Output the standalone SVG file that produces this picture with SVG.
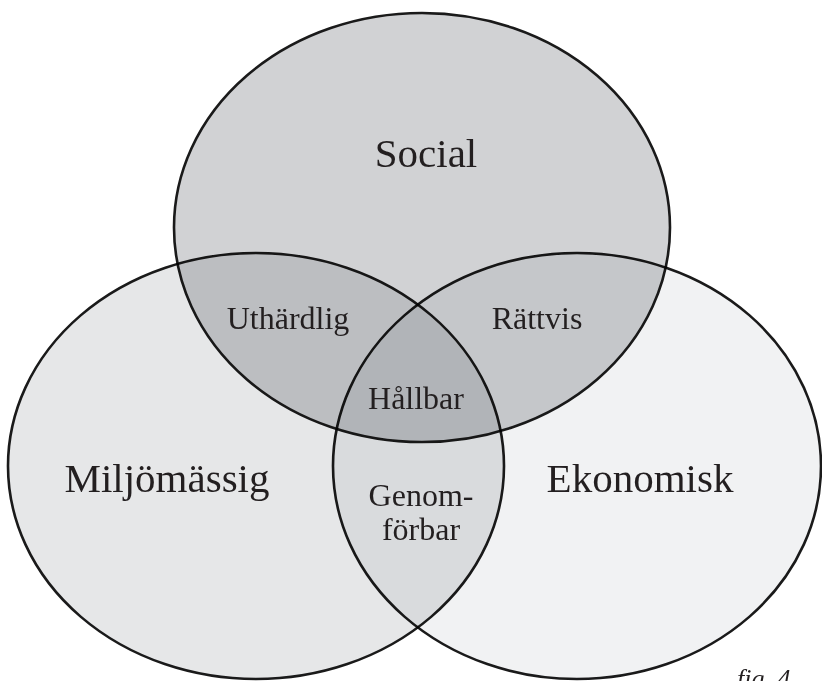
<svg xmlns="http://www.w3.org/2000/svg" width="822" height="681" viewBox="0 0 822 681">
<style>
.c{stroke:#1a1a1a;stroke-width:2.6;mix-blend-mode:multiply}
.t{font-family:"Liberation Serif","Times New Roman",serif;fill:#231f20;text-anchor:middle}
.big{font-size:41px}
.small{font-size:32px}
.fig{font-family:"Liberation Serif","Times New Roman",serif;font-style:italic;font-size:26px;fill:#231f20}
</style>
<rect width="822" height="681" fill="#ffffff"/>
<g id="social"><ellipse class="c" cx="422" cy="227.5" rx="248" ry="214.5" fill="#d1d2d4"/></g>
<g id="miljomassig"><ellipse class="c" cx="256" cy="466" rx="248" ry="213" fill="#e6e7e8"/></g>
<g id="ekonomisk"><ellipse class="c" cx="577" cy="466" rx="244" ry="213" fill="#f1f2f3"/></g>
<g id="labels">
<text class="t big" x="426" y="167">Social</text>
<text class="t big" x="167" y="492">Miljömässig</text>
<text class="t big" x="640" y="492">Ekonomisk</text>
<text class="t small" x="288" y="329">Uthärdlig</text>
<text class="t small" x="537" y="329">Rättvis</text>
<text class="t small" x="416" y="409">Hållbar</text>
<text class="t small" x="421" y="506">Genom-</text>
<text class="t small" x="421" y="540">förbar</text>
<text class="fig" x="737" y="687">fig. 4</text>
</g>
</svg>
